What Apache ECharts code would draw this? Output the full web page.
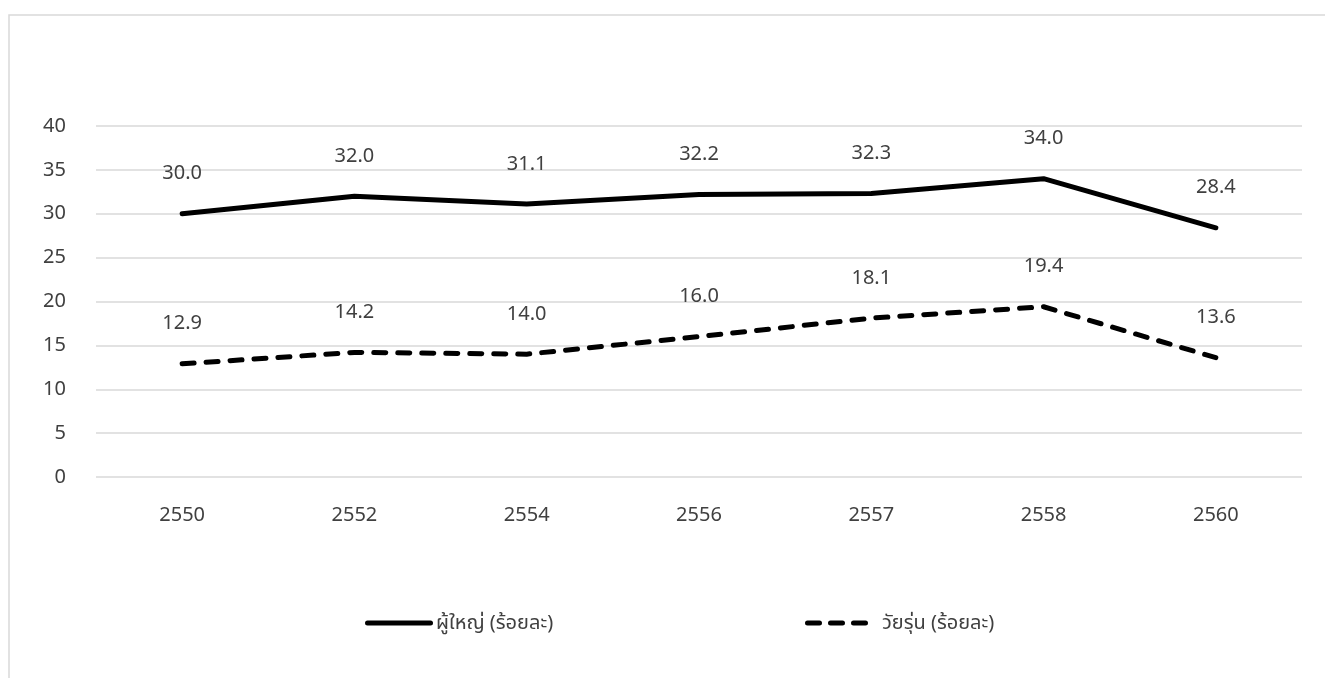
<!DOCTYPE html>
<html>
<head>
<meta charset="utf-8">
<script src="https://cdn.jsdelivr.net/npm/echarts@6/dist/echarts.min.js"></script>
<style>
  html, body { margin: 0; padding: 0; background: #ffffff; }
  #chart { width: 1325px; height: 678px; }
</style>
</head>
<body>
<div id="chart"></div>
<script>
// Survey years (Buddhist calendar)
const years = ['2550', '2552', '2554', '2556', '2557', '2558', '2560'];
// Adults, percent
const adults = [30.0, 32.0, 31.1, 32.2, 32.3, 34.0, 28.4];
// Teenagers, percent
const teens = [12.9, 14.2, 14.0, 16.0, 18.1, 19.4, 13.6];
const seriesNames = ['ผู้ใหญ่ (ร้อยละ)', 'วัยรุ่น (ร้อยละ)'];

const FONT = '"Noto Sans", "Noto Sans Thai", "Leelawadee UI", "DejaVu Sans", sans-serif';
const TEXT = '#404040';

// Legend keys: a thick rounded bar, and three rounded dashes
const SOLID_KEY = 'path://M2.5,0 L65.5,0 A2.5,2.5 0 0 1 65.5,5 L2.5,5 A2.5,2.5 0 0 1 2.5,0 Z';
const DASH_KEY = 'path://' +
  'M2.5,0 L14.5,0 A2.5,2.5 0 0 1 14.5,5 L2.5,5 A2.5,2.5 0 0 1 2.5,0 Z ' +
  'M25.5,0 L37.5,0 A2.5,2.5 0 0 1 37.5,5 L25.5,5 A2.5,2.5 0 0 1 25.5,0 Z ' +
  'M48.5,0 L60.5,0 A2.5,2.5 0 0 1 60.5,5 L48.5,5 A2.5,2.5 0 0 1 48.5,0 Z';

const chart = echarts.init(document.getElementById('chart'), null, { renderer: 'canvas' });

const labelStyle = {
  show: true,
  position: 'top',
  distance: 30,
  color: TEXT,
  fontFamily: FONT,
  fontSize: 20,
  formatter: p => p.value.toFixed(1)
};

chart.setOption({
  backgroundColor: '#ffffff',
  animation: false,
  graphic: [{
    type: 'rect',
    shape: { x: 9, y: 15, width: 1340, height: 700 },
    style: { fill: 'none', stroke: '#d9d9d9', lineWidth: 1.5 },
    silent: true
  }],
  grid: { left: 96, right: 23, top: 126, bottom: 201, containLabel: false },
  legend: [
    {
      data: [{ name: seriesNames[0], icon: SOLID_KEY }],
      left: 360, top: 608,
      itemWidth: 68, itemHeight: 5,
      itemStyle: { color: '#000000' },
      textStyle: { color: TEXT, fontFamily: FONT, fontSize: 20, padding: [0, 0, 0, -2] }
    },
    {
      data: [{ name: seriesNames[1], icon: DASH_KEY }],
      left: 800, top: 608,
      itemWidth: 63, itemHeight: 5,
      itemStyle: { color: '#000000' },
      textStyle: { color: TEXT, fontFamily: FONT, fontSize: 20, padding: [0, 0, 0, 9] }
    }
  ],
  xAxis: {
    type: 'category',
    data: years,
    boundaryGap: true,
    axisLine: { show: false },
    axisTick: { show: false },
    axisLabel: { color: TEXT, fontFamily: FONT, fontSize: 20, margin: 28 }
  },
  yAxis: {
    type: 'value',
    min: 0, max: 40, interval: 5,
    axisLine: { show: false },
    axisTick: { show: false },
    axisLabel: { color: TEXT, fontFamily: FONT, fontSize: 20, margin: 30 },
    splitLine: { lineStyle: { color: '#d9d9d9', width: 1.5 } }
  },
  series: [
    {
      name: seriesNames[0],
      type: 'line',
      data: adults,
      symbol: 'circle',
      symbolSize: 0.1,
      lineStyle: { color: '#000000', width: 5, cap: 'round', join: 'round' },
      itemStyle: { color: '#000000' },
      label: labelStyle
    },
    {
      name: seriesNames[1],
      type: 'line',
      data: teens,
      symbol: 'circle',
      symbolSize: 0.1,
      lineStyle: { color: '#000000', width: 5, type: [12, 12], cap: 'round', join: 'round' },
      itemStyle: { color: '#000000' },
      label: labelStyle
    }
  ]
});
</script>
</body>
</html>
